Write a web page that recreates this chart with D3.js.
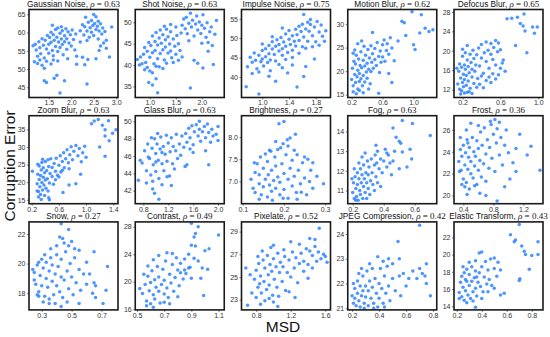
<!DOCTYPE html>
<html>
<head>
<meta charset="utf-8">
<script src="https://cdn.jsdelivr.net/npm/d3@7"></script>
<style>
  body { margin: 0; background: #fff; }
  svg { display: block; }
</style>
</head>
<body>
<svg id="chart"></svg>
<script>
// ---- data ----
const corruptions = ["Gaussian Noise", "Shot Noise", "Impulse Noise", "Motion Blur", "Defocus Blur",
  "Zoom Blur", "Glass Blur", "Brightness", "Fog", "Frost",
  "Snow", "Contrast", "Pixelate", "JPEG Compression", "Elastic Transform"];

const rhos = ["0.63", "0.63", "0.75", "0.62", "0.65", "0.63", "0.63", "0.27", "0.63", "0.36",
  "0.27", "0.49", "0.52", "0.42", "0.43"];

const xTickLabels = [
  ["1.5", "2.0", "2.5", "3.0"], ["1.0", "1.5", "2.0"], ["1.0", "1.4", "1.8"], ["0.2", "0.6", "1.0"], ["0.2", "0.6", "1.0"],
  ["0.2", "0.6", "1.0", "1.4"], ["0.8", "1.2", "1.6", "2.0"], ["0.1", "0.2", "0.3"], ["0.2", "0.4", "0.6"], ["0.4", "0.8", "1.2"],
  ["0.3", "0.5", "0.7"], ["0.5", "0.7", "0.9", "1.1"], ["0.8", "1.2", "1.6"], ["0.2", "0.4", "0.6", "0.8"], ["0.2", "0.4", "0.6", "0.8"]
];

const yTickLabels = [
  ["45", "50", "55", "60", "65"], ["35", "40", "45", "50"], ["40", "45", "50", "55"], ["15", "20", "25", "30"], ["12", "16", "20", "24", "28"],
  ["15", "20", "25", "30", "35"], ["42", "44", "46", "48", "50"], ["7.0", "7.5", "8.0"], ["11", "12", "13", "14"], ["20", "22", "24", "26"],
  ["18", "20", "22"], ["16", "20", "24", "28"], ["23", "25", "27", "29"], ["21", "22", "23", "24"], ["14", "16", "18", "20", "22"]
];

const xDomains = [
  [1.06, 3.04], [0.72, 2.43], [0.69, 2.02], [0.15, 1.3], [0.11, 1.05],
  [0.16, 1.47], [0.67, 2.1], [0.097, 0.313], [0.168, 0.742], [0.276, 1.46],
  [0.215, 0.81], [0.487, 1.142], [0.63, 1.66], [0.168, 0.827], [0.178, 0.89]
];

const yDomains = [
  [42.2, 66.3], [32.4, 53], [34.7, 57.4], [14.4, 33.1], [10.4, 28.5],
  [13.9, 38.9], [40.5, 50.65], [6.5, 8.48], [10.33, 14.8], [19.25, 27.3],
  [16.87, 22.82], [15.9, 28.7], [22.1, 29.86], [20.93, 24.49], [13.58, 23.8]
];

// [MSD, corruption error] per image
const gaussianNoise = [[1.2,56.8],[1.22,55.2],[1.25,53.5],[1.28,57.5],[1.3,55.8],[1.32,54.2],[1.35,58.3],[1.38,56.5],[1.4,53],[1.42,57.9],[1.45,55.5],[1.47,59.2],[1.5,56.8],[1.5,54.3],[1.52,58.6],[1.55,60.1],[1.55,57.3],[1.58,55.1],[1.6,59.4],[1.6,53.6],[1.62,57.9],[1.65,60.8],[1.65,56.2],[1.68,58.7],[1.7,54.8],[1.7,61.2],[1.72,57.4],[1.75,59.8],[1.75,55.9],[1.78,58.2],[1.8,60.5],[1.8,56.7],[1.82,53.9],[1.85,59.1],[1.85,57.5],[1.88,61],[1.9,58.3],[1.9,55.4],[1.93,60.2],[1.95,57.1],[1.98,59.4],[2.0,56.3],[2.02,60.7],[2.05,58.1],[2.08,55.2],[2.1,59.6],[1.45,52.1],[1.55,51.4],[1.35,51],[1.25,51.5],[1.4,50.2],[1.3,52.5],[1.6,52.5],[1.7,52.2],[1.92,52.8],[2.12,53.5],[1.18,52],[1.15,56.4],[1.58,62],[1.78,61.6],
  [2.2,60.5],[2.25,62.1],[2.28,59.3],[2.3,61.6],[2.32,64.2],[2.35,60.4],[2.38,62.8],[2.4,58.7],[2.42,61.3],[2.45,63.3],[2.45,60.1],[2.48,61.9],[2.5,64.9],[2.5,59.2],[2.52,62.5],[2.55,60.8],[2.55,64.3],[2.58,61.7],[2.6,63.1],[2.6,58.2],[2.62,60.4],[2.65,62.4],[2.68,59.6],[2.7,61.2],[2.72,57.1],[2.75,60.3],[2.78,55.7],[2.65,56.3],[2.9,61.5],[2.35,57.8],[2.2,57.4],
  [1.4,46.8],[1.45,46.3],[1.62,47.5],[1.68,48.3],[1.75,43.4],[1.85,46.8],[2.35,45.9],[2.3,51.2],[2.37,52.6],[2.55,52.8],[2.85,53.3],[2.12,51.3],[2.25,53.2],[2.62,55.1],[2.78,57.9]];

const shotNoise = [[0.88,42.5],[0.9,44.1],[0.92,40.6],[0.95,43.2],[0.98,45.3],[1.0,41.8],[1.02,44.6],[1.05,46.8],[1.05,42.9],[1.08,40.3],[1.1,45.5],[1.1,43.4],[1.12,47.6],[1.15,41.5],[1.15,44.7],[1.18,46.3],[1.2,42.7],[1.2,48.2],[1.22,45.1],[1.25,43.6],[1.25,47.1],[1.28,41.2],[1.3,45.9],[1.3,44.2],[1.32,48.4],[1.35,42.8],[1.35,46.6],[1.38,44.9],[1.4,47.8],[1.4,43.3],[1.42,41.7],[1.45,46.1],[1.48,44.4],[1.5,48.9],[1.5,42.5],[1.52,46.9],[1.55,45],[1.58,43.4],[1.6,47.5],[1.62,41.9],[1.18,39.6],[1.25,39.2],[0.95,39.4],[1.0,38.6],[0.9,38.9],[0.85,40.3],[0.82,41.9],[1.05,38.2],[1.12,39.7],[1.32,40.4],[1.45,40.6],[1.55,41.1],[1.4,49.5],[1.28,49.1],
  [1.62,49.3],[1.65,50.8],[1.68,48.5],[1.7,51.2],[1.72,47.3],[1.75,49.8],[1.78,52.1],[1.8,48.9],[1.82,50.5],[1.85,46.8],[1.88,49.6],[1.9,51.5],[1.92,48.2],[1.95,50.1],[1.98,47.4],[2.0,49.3],[2.02,51.8],[2.05,48.6],[2.08,46.5],[2.1,49.9],[2.12,45.3],[2.15,47.8],[2.2,44.6],[2.18,48.9],[2.25,47.2],[2.28,50.4],[1.75,45.7],[2.0,45.1],
  [0.98,35.9],[1.05,35.3],[1.12,36.8],[1.15,33.5],[1.78,34.6],[1.85,41.1],[1.92,40.4],[2.02,39.3],[2.12,43.2],[2.22,40.1],[0.8,40],[0.76,41.3]];

const impulseNoise = [[0.78,42.6],[0.82,45.1],[0.85,43.8],[0.88,46.2],[0.9,44.3],[0.92,42.1],[0.95,45.6],[0.98,43.9],[1.0,46.8],[1.0,44.6],[1.02,42.8],[1.05,47.3],[1.05,45.2],[1.08,43.7],[1.1,48.1],[1.1,46],[1.12,44.4],[1.15,47.2],[1.15,49.1],[1.18,45.8],[1.2,47.9],[1.2,44.1],[1.22,49.6],[1.25,46.7],[1.25,48.4],[1.28,50.2],[1.3,47.3],[1.3,45.6],[1.32,49],[1.35,51.1],[1.35,47.9],[1.38,46.3],[1.4,49.7],[1.4,52],[1.42,48.4],[1.45,50.6],[1.45,46.9],[1.48,49.2],[1.5,52.3],[1.5,48],[1.52,50.9],[1.55,53.1],[1.55,49.4],[1.58,51.7],[1.6,47.8],[1.6,53.6],[1.62,50.3],[1.65,52.4],[1.68,54.1],[1.68,49.2],[1.7,51.8],[1.72,53.5],[1.75,50.6],[1.78,52.9],[1.8,49.1],[1.82,54.3],[1.85,51.6],[1.88,53.4],[1.9,50.5],[1.95,51.9],[1.93,49.2],[1.62,56.1],[1.72,54.8],[1.12,41.6],[0.95,41.3],[1.25,43.2],[1.35,44.5],[1.45,45],[1.55,46.1],[1.65,47.4],[1.75,47.8],[1.85,48.2],[1.0,48.5],[1.15,50.4],[1.3,52.6],
  [0.76,37.5],[0.95,35.6],[1.2,38.9],[1.1,40.2],[1.38,41],[1.3,42.4],[1.52,37.4],[1.62,40.1],[1.65,42.7],[1.78,44.6],[1.45,43.1],[0.85,40.9]];

const motionBlur = [[0.2,18.2],[0.21,20.6],[0.22,16.9],[0.23,22.1],[0.24,19.3],[0.25,17.6],[0.25,21.5],[0.26,23.4],[0.27,18.8],[0.28,20.2],[0.28,16.2],[0.29,22.6],[0.3,19.5],[0.3,17.8],[0.31,21.2],[0.32,24.1],[0.32,18.4],[0.33,20.7],[0.34,16.9],[0.35,22.3],[0.35,19.1],[0.36,25.3],[0.37,21.1],[0.37,17.7],[0.38,23.4],[0.39,19.8],[0.4,21.7],[0.4,18.5],[0.41,24.6],[0.42,20.4],[0.43,22.8],[0.44,17.3],[0.45,19.9],[0.45,25.4],[0.46,21.9],[0.47,23.7],[0.48,20.6],[0.5,22.5],[0.5,24.8],[0.52,21.2],[0.53,26.1],[0.55,23.1],[0.56,19.7],[0.57,24.3],[0.58,21.9],[0.6,25.6],[0.6,23],[0.62,26.6],[0.63,22.1],[0.65,24.4],[0.66,25.8],[0.68,23.6],[0.7,27.1],[0.72,24.9],[0.22,15.6],[0.26,15.2],[0.3,15.9],[0.24,24.5],[0.28,25.8],[0.33,26.4],[0.22,23.8],[0.35,15.4],[0.42,16.2],
  [0.98,32.6],[1.1,32],[0.85,30.6],[0.88,30.3],[1.15,29.1],[1.2,28.4],[1.25,28.8],[1.08,28.1],[1.0,25.6],[1.02,24.6],[0.72,17.6],[0.55,15.3],[0.75,22.2],[0.8,26.4],[0.9,27.6],[0.47,28.2],[0.68,19.5]];

const defocusBlur = [[0.15,13.2],[0.16,15.8],[0.17,12.1],[0.17,17.3],[0.18,14.4],[0.19,16.6],[0.19,11.8],[0.2,13.5],[0.2,18.9],[0.21,15.2],[0.21,12.6],[0.22,17.1],[0.22,14.1],[0.23,19.6],[0.23,16.2],[0.24,12.9],[0.24,14.9],[0.25,18.1],[0.25,11.5],[0.26,16.8],[0.26,13.8],[0.27,15.5],[0.28,19.3],[0.28,12.3],[0.29,17.6],[0.3,14.6],[0.3,16.2],[0.31,20.1],[0.32,13.3],[0.32,18.4],[0.33,15.8],[0.34,17.1],[0.35,19.2],[0.35,12.5],[0.36,14.3],[0.37,20.6],[0.38,16.9],[0.4,18.5],[0.4,21.3],[0.42,15.4],[0.43,19.6],[0.45,17.8],[0.45,21.8],[0.47,20.1],[0.48,16.4],[0.5,19.3],[0.5,21.5],[0.52,18.2],[0.53,20.7],[0.55,22.1],[0.55,17.1],[0.57,19.8],[0.58,21.6],[0.6,20.2],[0.18,11.1],[0.22,11.3],[0.27,11.6],[0.3,11.2],[0.2,20.3],[0.25,21.1],[0.14,16.4],
  [0.38,13.1],[0.42,12.4],[0.45,13.9],[0.48,14.6],[0.5,13.5],[0.52,15.3],[0.55,14.2],[0.58,15.1],[0.6,16.4],[0.62,17.5],[0.65,15.8],[0.4,14.8],
  [0.72,26.7],[0.78,26.9],[0.85,27.6],[0.81,25.6],[0.84,25.1],[0.86,24.1],[0.94,24.9],[0.99,24.9],[0.96,23.6],[0.67,26.6],[0.76,21.1],[0.88,19.6],[0.63,18.1]];

const zoomBlur = [[0.28,19.6],[0.29,22.3],[0.3,17.4],[0.31,20.8],[0.31,24.6],[0.32,18.7],[0.33,21.9],[0.33,16.5],[0.34,23.5],[0.35,19.9],[0.35,25.6],[0.36,17.8],[0.37,21.4],[0.37,24.1],[0.38,19.2],[0.39,22.7],[0.39,16.2],[0.4,20.6],[0.4,25.9],[0.41,18.3],[0.42,23.3],[0.43,21],[0.44,26.4],[0.44,17.5],[0.45,24.5],[0.46,19.8],[0.47,22.5],[0.48,26.7],[0.5,21.6],[0.5,24.2],[0.52,19.4],[0.53,25.3],[0.55,23.1],[0.56,26.8],[0.58,22],[0.6,24.8],[0.62,27.5],[0.63,22.9],[0.65,25.9],[0.67,28.4],[0.68,24.1],[0.7,26.7],[0.72,29.2],[0.74,25.5],[0.76,27.8],[0.78,30.1],[0.8,26.4],[0.82,28.8],[0.85,30.4],[0.88,27.5],[0.9,29.6],[0.93,25.8],[0.95,28.4],[0.98,30.2],[0.3,15.8],[0.34,15.1],[0.28,17.5],[0.29,25.1],[0.36,26.5],[0.55,20.7],[0.6,21.5],[0.45,15.6],[0.65,23.4],[0.75,23.8],
  [1.12,37.4],[1.18,37.8],[1.33,37.5],[1.08,36.6],[1.24,36.2],[1.28,34.9],[1.44,34.9],[1.39,33.9],[1.28,33.1],[1.34,31.8],[1.2,30],[1.28,27.4],[0.21,23.1],[0.46,15],[0.66,17.1],[0.75,19.2],[0.85,19.6],[1.0,27.1],[0.92,22.3]];

const glassBlur = [[0.78,45.2],[0.82,46.6],[0.85,44.3],[0.87,47.4],[0.9,45.7],[0.92,43.8],[0.94,46.9],[0.96,45],[0.98,48],[1.0,46.3],[1.0,44.2],[1.02,47.4],[1.04,45.5],[1.05,43.4],[1.07,46.8],[1.08,48.2],[1.1,45.1],[1.12,47.1],[1.13,44.3],[1.15,46.2],[1.17,48.4],[1.18,45.4],[1.2,47.5],[1.22,43.7],[1.23,46.5],[1.25,48.1],[1.27,45.1],[1.28,47.1],[1.3,44.5],[1.32,46.6],[1.33,48.5],[1.35,45.7],[1.38,47.4],[1.4,46.1],[1.42,48.3],[1.45,47],[1.47,44.8],[0.88,45.9],[0.95,43.1],[1.0,45.3],[1.1,46.4],[1.18,43.6],[0.93,48.1],[1.03,48.6],
  [1.48,48.6],[1.5,47.6],[1.53,49.2],[1.55,48.1],[1.58,49.5],[1.6,47.3],[1.62,48.8],[1.65,49.6],[1.68,48.3],[1.7,49.1],[1.72,47.7],[1.75,48.8],[1.78,49.4],[1.8,48.1],[1.83,49.7],[1.85,48.7],[1.88,47.6],[1.9,49.1],[1.92,48.3],[1.7,50],[1.6,46.4],[1.55,46.8],
  [0.85,42.9],[0.95,42.2],[0.98,41.7],[1.05,41],[1.1,42.7],[0.75,45.5],[1.5,45],[1.97,48.5],[2.0,47.8],[1.8,46.6],[1.85,45],[2.0,49.4],[1.25,42.6],[0.72,43.2]];

const brightness = [[0.12,7.05],[0.125,6.85],[0.13,7.2],[0.13,6.75],[0.135,7.4],[0.14,6.95],[0.14,7.15],[0.145,6.7],[0.15,7.3],[0.15,6.88],[0.155,7.05],[0.16,6.65],[0.16,7.45],[0.162,7.15],[0.165,6.92],[0.17,7.25],[0.17,6.78],[0.175,7.02],[0.178,7.55],[0.18,6.85],[0.18,7.35],[0.185,7.1],[0.19,6.7],[0.19,6.98],[0.195,7.4],[0.2,7.18],[0.2,6.82],[0.205,7.6],[0.21,7.05],[0.21,6.62],[0.215,7.3],[0.22,6.9],[0.22,7.48],[0.225,7.12],[0.23,6.75],[0.235,7.25],[0.24,6.95],[0.245,7.42],[0.25,7.08],[0.255,6.7],[0.143,7.55],[0.155,7.62],[0.168,7.68],[0.172,6.58],[0.198,6.62],[0.232,6.6],[0.185,7.72],[0.128,7.42],[0.14,6.6],
  [0.2,8.35],[0.188,8.3],[0.215,7.98],[0.228,8.06],[0.208,7.94],[0.18,7.9],[0.198,7.85],[0.192,7.76],[0.165,7.7],[0.232,7.6],[0.25,7.55],[0.258,7.5],[0.27,7.42],[0.28,7.12],[0.296,6.95],[0.262,7.0],[0.242,6.76],[0.27,6.85],[0.265,7.25],[0.21,7.8],[0.225,7.7]];

const fog = [[0.2,10.9],[0.205,11.4],[0.21,10.6],[0.215,11.7],[0.22,11.1],[0.225,10.7],[0.23,11.9],[0.23,11.3],[0.235,10.5],[0.24,11.6],[0.245,11],[0.25,12.1],[0.25,10.8],[0.255,11.4],[0.26,11.8],[0.265,10.6],[0.27,11.2],[0.27,12.3],[0.275,11.6],[0.28,10.9],[0.285,11.9],[0.29,11.4],[0.295,12.5],[0.3,11.1],[0.3,11.8],[0.305,12.2],[0.31,10.8],[0.315,11.5],[0.32,12.6],[0.325,11.9],[0.33,11.3],[0.34,12.3],[0.345,12.8],[0.35,11.7],[0.355,12.4],[0.36,13],[0.37,12.1],[0.38,12.6],[0.39,11.9],[0.4,12.5],[0.41,13.1],[0.42,12.2],[0.43,12.8],[0.44,12.4],[0.21,12.1],[0.24,12.4],[0.26,12.7],[0.195,11.6],[0.22,10.5],[0.29,10.6],[0.34,11],[0.36,11.4],[0.38,11.2],[0.28,12.9],
  [0.52,14.55],[0.585,14.4],[0.46,14.17],[0.7,13.8],[0.5,13.5],[0.51,13.4],[0.52,12.95],[0.58,12.6],[0.46,12.5],[0.42,12.9],[0.35,13.3],[0.47,13.0],[0.55,12.2],[0.45,11.8],[0.5,12.1],[0.48,13.7],[0.57,13.1]];

const frost = [[0.34,23.1],[0.36,24.2],[0.37,22.3],[0.38,23.6],[0.4,21.5],[0.4,24.6],[0.42,22.8],[0.43,23.9],[0.44,21.2],[0.45,25.1],[0.46,22.4],[0.47,23.5],[0.48,24.4],[0.5,22],[0.5,23.1],[0.52,25.3],[0.53,21.6],[0.54,24],[0.55,22.7],[0.56,23.6],[0.58,21],[0.58,25],[0.6,22.3],[0.6,24.3],[0.62,23.2],[0.63,25.8],[0.64,21.7],[0.65,24.6],[0.67,22.9],[0.68,26.2],[0.7,23.8],[0.7,21.3],[0.72,25.1],[0.74,22.5],[0.75,24.4],[0.77,26.5],[0.78,23.4],[0.8,25.6],[0.82,22.2],[0.84,24.8],[0.85,26.1],[0.88,23.7],[0.9,25.3],[0.92,22.8],[0.95,24.6],[0.97,26],[1.0,23.9],[0.38,21],[0.42,20.8],[0.48,20.6],[0.55,20.9],[0.36,25.3],[0.44,26],[0.5,26.6],[0.6,26.4],[0.35,22.2],[0.46,24.8],
  [1.3,24.5],[1.25,23.7],[1.42,22.3],[1.1,24.3],[1.06,23],[1.02,21.5],[0.95,20.8],[0.85,19.5],[0.7,20],[0.45,20.1],[0.62,20.2],[0.76,26.8],[0.82,26.95],[0.88,26.7],[1.1,22.2],[1.15,25.6]];

const snow = [[0.25,19.4],[0.26,18.6],[0.27,19.9],[0.28,18.1],[0.29,19.2],[0.3,20.3],[0.3,18.5],[0.31,19.7],[0.32,17.8],[0.33,19],[0.33,20.1],[0.34,18.4],[0.35,19.5],[0.35,17.6],[0.36,20.4],[0.37,18.8],[0.37,19.9],[0.38,17.9],[0.39,19.3],[0.4,20.6],[0.4,18.5],[0.41,19.8],[0.42,18.1],[0.43,19.1],[0.43,20.3],[0.44,17.7],[0.45,18.9],[0.46,20.8],[0.47,19.5],[0.48,18.3],[0.49,20],[0.5,19.1],[0.51,17.9],[0.52,20.4],[0.53,18.7],[0.55,19.6],[0.56,18.2],[0.58,19.3],[0.28,20.1],[0.32,20.6],[0.36,21],[0.4,21.2],[0.27,17.9],[0.31,17.4],[0.39,17.3],[0.45,21.4],[0.42,21.8],[0.47,17.4],
  [0.43,22.7],[0.48,22.3],[0.44,21.7],[0.48,21.2],[0.5,21.5],[0.52,21],[0.55,20.9],[0.65,20.8],[0.6,20.1],[0.74,19.8],[0.62,19.3],[0.65,18.7],[0.66,18.5],[0.64,18],[0.66,17.7],[0.73,18.2],[0.71,17.3],[0.55,17.3],[0.43,17.1],[0.35,17.3],[0.28,17.8],[0.24,19.6],[0.25,18.9],[0.6,18.6]];

const contrast = [[0.54,18.3],[0.56,19.6],[0.57,17.2],[0.58,20.8],[0.59,18.7],[0.6,16.8],[0.6,19.9],[0.61,21.6],[0.62,18.1],[0.63,20.3],[0.63,17.5],[0.64,19.2],[0.65,22.2],[0.66,18.6],[0.66,20.7],[0.67,16.9],[0.68,19.6],[0.69,21.8],[0.7,18.2],[0.7,20.2],[0.71,23],[0.72,19.1],[0.73,17.7],[0.74,21.1],[0.75,19.8],[0.76,22.5],[0.77,18.6],[0.78,20.6],[0.79,23.5],[0.8,21.7],[0.81,19.4],[0.82,22.7],[0.84,20.4],[0.85,23.3],[0.86,21.2],[0.88,24],[0.89,22.1],[0.9,20.5],[0.92,23.4],[0.62,23.2],[0.66,23.8],[0.72,24.2],[0.58,22.3],[0.55,21.1],[0.52,19],[0.57,16.5],[0.62,16.3],[0.74,16.8],[0.8,17.8],[0.76,24.1],
  [0.9,28.5],[0.93,27],[0.95,28],[0.92,26.5],[0.9,25.3],[0.93,25.2],[1.1,26.8],[1.0,24.5],[1.03,24.8],[0.95,23],[0.98,22],[1.02,21.8],[0.97,20.5],[0.99,18],[0.88,22],[0.85,21.7],[0.82,21.3],[0.7,17]];

const pixelate = [[0.78,24.8],[0.8,25.6],[0.82,24.1],[0.83,26.2],[0.85,25.1],[0.86,23.6],[0.88,26.5],[0.89,24.6],[0.9,25.8],[0.92,23.9],[0.93,26.9],[0.94,25.2],[0.95,24.3],[0.96,26.1],[0.98,25.5],[0.99,23.4],[1.0,26.6],[1.01,24.8],[1.03,25.9],[1.04,24.1],[1.05,27.1],[1.07,25.4],[1.08,26.3],[1.1,24.6],[1.11,25.9],[1.13,26.8],[1.14,23.8],[1.16,25.4],[1.18,26.5],[1.2,25],[1.22,27.2],[1.24,25.8],[1.26,26.7],[1.28,24.5],[1.3,26.2],[0.82,26.8],[0.87,27.3],[0.75,23.6],[0.8,23.2],[0.9,22.9],[0.97,27.6],[0.73,25.2],[0.84,24.4],[1.06,23.3],[1.12,27.4],[1.18,23.7],[0.95,23.1],
  [1.32,27.1],[1.35,26.4],[1.38,27.5],[1.4,26.1],[1.42,27.3],[1.45,26.9],[1.48,27.7],[1.5,26.4],[1.52,27.2],[1.55,26.6],[1.58,27],[1.6,26.8],[1.62,26.3],[1.45,25.8],[1.35,25.5],[1.4,24.9],
  [1.53,29.3],[1.48,28.3],[1.3,27.9],[1.0,27.8],[1.2,28.1],[0.7,22.5],[0.68,25.8],[1.0,22.8],[1.05,22.4],[1.25,23.2],[0.85,22.6],[1.42,28.4]];

const jpegCompression = [[0.2,21.5],[0.21,21.2],[0.22,21.8],[0.22,21.4],[0.23,21.1],[0.24,22.1],[0.24,21.6],[0.25,21.3],[0.26,21.9],[0.26,21.05],[0.27,21.5],[0.28,22.3],[0.28,21.7],[0.29,21.2],[0.3,21.9],[0.3,21.45],[0.31,22.5],[0.32,21.1],[0.32,21.7],[0.33,22.1],[0.34,21.4],[0.35,21.85],[0.35,22.6],[0.36,21.2],[0.37,22.2],[0.38,21.6],[0.39,21.05],[0.4,22],[0.4,21.4],[0.41,22.6],[0.42,21.8],[0.43,21.2],[0.44,22.3],[0.45,21.6],[0.46,22.7],[0.47,21.9],[0.48,21.3],[0.5,22.2],[0.52,21.7],[0.25,22.4],[0.21,22],[0.27,22.6],[0.33,22.8],[0.29,21],[0.36,21.0],[0.44,21.05],
  [0.7,24.35],[0.54,23.7],[0.39,23.08],[0.55,23.0],[0.75,22.8],[0.7,22.6],[0.72,22.4],[0.74,22.3],[0.78,21.5],[0.56,21.5],[0.75,22.0],[0.43,22.9],[0.47,23],[0.5,22.8],[0.58,22.4],[0.62,22.2],[0.65,22.5],[0.6,21.9],[0.55,22.3],[0.68,22.2]];

const elasticTransform = [[0.22,15.6],[0.23,16.8],[0.24,15.1],[0.24,17.5],[0.25,16.2],[0.26,14.7],[0.26,17.9],[0.27,15.8],[0.28,16.9],[0.28,18.3],[0.29,15.3],[0.3,16.4],[0.3,17.7],[0.31,14.9],[0.32,16.9],[0.32,18.6],[0.33,15.7],[0.34,17.3],[0.35,16.1],[0.35,18.1],[0.36,15.2],[0.37,16.8],[0.38,17.9],[0.39,16.3],[0.4,18.6],[0.41,15.7],[0.42,17.4],[0.43,19.2],[0.44,16.6],[0.45,18.2],[0.46,17.1],[0.47,19.5],[0.48,16.4],[0.5,18.4],[0.52,17.5],[0.53,19.1],[0.55,18.2],[0.22,14.9],[0.25,18.6],[0.28,14.4],[0.3,19.1],[0.35,19.3],[0.33,14.6],[0.4,14.9],[0.45,15.7],[0.5,16.1],[0.27,17.1],[0.36,17.4],
  [0.7,23.5],[0.63,22.3],[0.67,21.7],[0.66,21.5],[0.72,21],[0.74,20.4],[0.75,20],[0.8,19.9],[0.85,21.5],[0.85,20],[0.78,18.3],[0.7,17],[0.705,17.2],[0.58,15.5],[0.35,13.9],[0.38,20.2],[0.4,20.3],[0.5,19.6],[0.55,15.3]];

const panelPoints = [gaussianNoise, shotNoise, impulseNoise, motionBlur, defocusBlur,
  zoomBlur, glassBlur, brightness, fog, frost,
  snow, contrast, pixelate, jpegCompression, elasticTransform];

// ---- layout ----
const width = 550, height = 337;
const cols = 5;
const panelW = 89, panelH = 88;
const colStep = 106.25, rowStep = 106.2;
const left0 = 29, top0 = 9.5;

const svg = d3.select("#chart").attr("width", width).attr("height", height);
const sans = "'Liberation Sans', Arial, sans-serif";
const serif = "'Liberation Serif', 'Times New Roman', serif";

corruptions.forEach((name, i) => {
  const col = i % cols, row = Math.floor(i / cols);
  const g = svg.append("g")
    .attr("transform", `translate(${left0 + col * colStep},${top0 + row * rowStep})`);

  const x = d3.scaleLinear().domain(xDomains[i]).range([0, panelW]);
  const y = d3.scaleLinear().domain(yDomains[i]).range([panelH, 0]);

  g.append("clipPath").attr("id", "clip" + i)
    .append("rect").attr("width", panelW).attr("height", panelH);

  g.append("g").attr("clip-path", `url(#clip${i})`)
    .selectAll("circle")
    .data(panelPoints[i])
    .join("circle")
      .attr("cx", d => x(d[0]))
      .attr("cy", d => y(d[1]))
      .attr("r", 1.75)
      .attr("fill", "#2f84ff")
      .attr("fill-opacity", 0.85);

  const xl = xTickLabels[i], yl = yTickLabels[i];
  const xAxis = d3.axisBottom(x).tickValues(xl.map(Number)).tickFormat((d, k) => xl[k])
    .tickSize(2).tickPadding(1);
  const yAxis = d3.axisLeft(y).tickValues(yl.map(Number)).tickFormat((d, k) => yl[k])
    .tickSize(2).tickPadding(1.5);

  const xg = g.append("g").attr("transform", `translate(0,${panelH})`).call(xAxis);
  const yg = g.append("g").call(yAxis);
  [xg, yg].forEach(a => {
    a.select(".domain").remove();
    a.selectAll("line").attr("stroke", "#444").attr("stroke-width", 0.7);
    a.selectAll("text").attr("fill", "#333").style("font-family", sans).style("font-size", "7px");
  });

  // frame on top
  g.append("rect")
    .attr("width", panelW).attr("height", panelH)
    .attr("fill", "none").attr("stroke", "#1a1a1a").attr("stroke-width", 1.6);

  // title
  const t = g.append("text")
    .attr("x", panelW / 2).attr("y", -2.5)
    .attr("text-anchor", "middle")
    .style("font-family", sans).style("font-size", "8.3px").attr("fill", "#111");
  t.append("tspan").text(name + ", ");
  t.append("tspan").style("font-family", serif).style("font-style", "italic").style("font-size", "9px").text("ρ");
  t.append("tspan").style("font-family", serif).style("font-size", "9px").text(" = " + rhos[i]);
});

svg.append("text")
  .attr("transform", "translate(15,166) rotate(-90)")
  .attr("text-anchor", "middle")
  .style("font-family", sans).style("font-size", "15.5px").attr("fill", "#111")
  .text("Corruption Error");

svg.append("text")
  .attr("x", 283).attr("y", 331.5)
  .attr("text-anchor", "middle")
  .style("font-family", sans).style("font-size", "15.5px").attr("fill", "#111")
  .text("MSD");
</script>
</body>
</html>
